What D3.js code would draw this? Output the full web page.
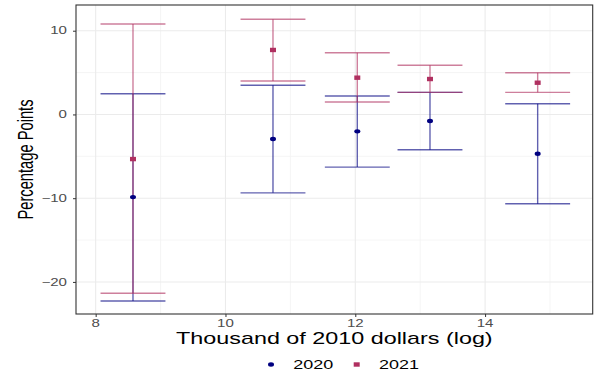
<!DOCTYPE html>
<html><head><meta charset="utf-8">
<script src="https://cdn.jsdelivr.net/npm/d3@7"></script>
<style>body{margin:0;background:#fff}svg{display:block}text{font-family:"Liberation Sans",Arial,sans-serif}</style>
</head><body><svg id="c" width="595" height="377"></svg>
<script>
const income  = [8.575, 10.732, 12.031, 13.151, 14.81];
const est2020 = [-9.87, -2.94, -2.02, -0.79, -4.70];
const lo2020  = [-22.27, -9.36, -6.29, -4.22, -10.67];
const hi2020  = [2.47, 3.48, 2.20, 2.64, 1.28];
const est2021 = [-5.33, 7.70, 4.39, 4.23, 3.79];
const lo2021  = [-21.35, 3.99, 1.48, 2.64, 2.64];
const hi2021  = [10.80, 11.37, 7.37, 5.87, 4.98];
const xTicks = [8, 10, 12, 14];
const xMinor = [9, 11, 13, 15];
const yTicks = [-20, -10, 0, 10];
const yMinor = [-15, -5, 5];
const seriesNames = ["2020", "2021"];

const svg = d3.select("#c");
const L = 76, R = 592.7, T = 5, B = 314;
const SX = 1.45;
const x = d3.scaleLinear().domain([7.697, 15.658]).range([L, R]);
const y = d3.scaleLinear().domain([-23.83, 13.07]).range([B, T]);
const cols = {"2020": "#000080", "2021": "#B03060"};

const g = svg.append("g");
// grid
g.selectAll(".ym").data(yMinor).join("line").attr("x1", L).attr("x2", R)
  .attr("y1", d => y(d)).attr("y2", d => y(d)).attr("stroke", "#f2f2f2").attr("stroke-width", 0.8);
g.selectAll(".xm").data(xMinor).join("line").attr("y1", T).attr("y2", B)
  .attr("x1", d => x(d)).attr("x2", d => x(d)).attr("stroke", "#f2f2f2").attr("stroke-width", 0.8);
g.selectAll(".yM").data(yTicks).join("line").attr("x1", L).attr("x2", R)
  .attr("y1", d => y(d)).attr("y2", d => y(d)).attr("stroke", "#ebebeb").attr("stroke-width", 1.1);
g.selectAll(".xM").data(xTicks).join("line").attr("y1", T).attr("y2", B)
  .attr("x1", d => x(d)).attr("x2", d => x(d)).attr("stroke", "#ebebeb").attr("stroke-width", 1.1);

// axes ticks & labels
const xa = g.append("g").attr("transform", `translate(0,${B})`).call(d3.axisBottom(x).tickValues(xTicks).tickSize(3).tickFormat(""));
const ya = g.append("g").attr("transform", `translate(${L},0)`).call(d3.axisLeft(y).tickValues(yTicks).tickSize(3).tickFormat(""));
[xa, ya].forEach(a => { a.select(".domain").remove(); a.selectAll("line").attr("stroke", "#333"); });

function stretchedText(sel, px, py, txt, anchor, size, fill) {
  return sel.append("text").attr("transform", `translate(${px},${py}) scale(${SX},1)`)
    .attr("text-anchor", anchor).attr("font-size", size).attr("fill", fill).text(txt);
}
xTicks.forEach(t => stretchedText(g, x(t), 327, String(t), "middle", 10.4, "#4d4d4d"));
yTicks.forEach(t => stretchedText(g, 67, y(t) + 3.7, t < 0 ? "\u2212" + Math.abs(t) : String(t), "end", 10.4, "#4d4d4d"));

// error bars
const half = 0.5;
function drawSeries(name, lo, hi) {
  const c = cols[name];
  const sg = g.append("g").attr("stroke", c).attr("stroke-opacity", 0.62).attr("stroke-width", 1.4);
  income.forEach((xi, i) => {
    sg.append("line").attr("x1", x(xi)).attr("x2", x(xi)).attr("y1", y(lo[i])).attr("y2", y(hi[i]));
    sg.append("line").attr("x1", x(xi - half)).attr("x2", x(xi + half)).attr("y1", y(lo[i])).attr("y2", y(lo[i]));
    sg.append("line").attr("x1", x(xi - half)).attr("x2", x(xi + half)).attr("y1", y(hi[i])).attr("y2", y(hi[i]));
  });
}
drawSeries("2020", lo2020, hi2020);
drawSeries("2021", lo2021, hi2021);

// points
g.selectAll(".p20").data(income).join("ellipse")
  .attr("cx", d => x(d)).attr("cy", (d, i) => y(est2020[i])).attr("rx", 3).attr("ry", 2.2).attr("fill", cols["2020"]);
g.selectAll(".p21").data(income).join("rect")
  .attr("x", d => x(d) - 3).attr("y", (d, i) => y(est2021[i]) - 2.2).attr("width", 6).attr("height", 4.4).attr("fill", cols["2021"]);

// panel border
g.append("rect").attr("x", L).attr("y", T).attr("width", R - L).attr("height", B - T)
  .attr("fill", "none").attr("stroke", "#333").attr("stroke-width", 1.1);

// titles
stretchedText(svg, (L + R) / 2, 343.5, "Thousand of 2010 dollars (log)", "middle", 16.1, "#000");
svg.append("text").attr("transform", `translate(33,${(T + B) / 2}) scale(${SX},1) rotate(-90)`)
  .attr("text-anchor", "middle").attr("font-size", 14.7).attr("fill", "#000").text("Percentage Points");

// legend
const leg = svg.append("g");
leg.append("ellipse").attr("cx", 271).attr("cy", 364.5).attr("rx", 3).attr("ry", 2.2).attr("fill", cols["2020"]);
stretchedText(leg, 293.3, 369, seriesNames[0], "start", 12.4, "#000");
leg.append("rect").attr("x", 356.7 - 3).attr("y", 364.5 - 2.2).attr("width", 6).attr("height", 4.4).attr("fill", cols["2021"]);
stretchedText(leg, 379, 369, seriesNames[1], "start", 12.4, "#000");
</script></body></html>
